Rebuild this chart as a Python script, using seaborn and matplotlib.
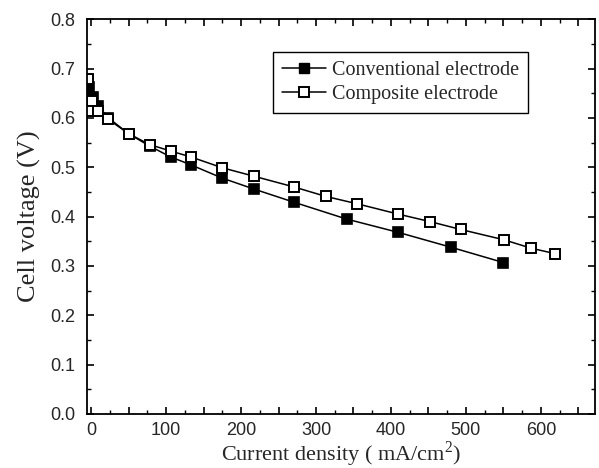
import pandas as pd
import matplotlib
matplotlib.use("Agg")
import matplotlib.pyplot as plt
import seaborn as sns

# conventional electrode (filled squares)
conv_current = [-3, 2, 9, 23, 50, 78, 106, 133, 175, 217, 271, 341, 410, 480, 550]
conv_voltage = [0.662, 0.643, 0.625, 0.600, 0.568, 0.543, 0.521, 0.505, 0.478, 0.456, 0.429, 0.395, 0.368, 0.338, 0.307]

# composite electrode (open squares)
comp_current = [-4, 1, 0, 9, 23, 50, 78, 106, 133, 175, 217, 271, 313, 355, 410, 452, 493, 551, 587, 619]
comp_voltage = [0.678, 0.634, 0.614, 0.614, 0.597, 0.568, 0.546, 0.533, 0.521, 0.499, 0.482, 0.460,
                0.441, 0.426, 0.405, 0.390, 0.374, 0.353, 0.336, 0.325]

x_ticks = [0, 100, 200, 300, 400, 500, 600]
y_ticks = [0.0, 0.1, 0.2, 0.3, 0.4, 0.5, 0.6, 0.7, 0.8]

conv = pd.DataFrame({"current": conv_current, "voltage": conv_voltage})
comp = pd.DataFrame({"current": comp_current, "voltage": comp_voltage})

sns.set_style("ticks")
plt.rcParams["font.family"] = ["Liberation Sans", "DejaVu Sans"]
plt.rcParams["mathtext.fontset"] = "custom"
plt.rcParams["mathtext.rm"] = "Liberation Serif"
plt.rcParams["axes.edgecolor"] = "black"
plt.rcParams["axes.linewidth"] = 1.3

fig = plt.figure(figsize=(5.99, 4.68), dpi=100)
ax = fig.add_axes([0.146, 0.1154, 0.847, 0.8434])

sns.lineplot(data=conv, x="current", y="voltage", ax=ax, sort=False, estimator=None,
             color="black", linewidth=1.1, marker="s", markersize=7,
             markerfacecolor="black", markeredgecolor="black", markeredgewidth=1.2)
sns.lineplot(data=comp, x="current", y="voltage", ax=ax, sort=False, estimator=None,
             color="black", linewidth=1.1, marker="s", markersize=7,
             markerfacecolor="white", markeredgecolor="black", markeredgewidth=1.4)

ax.set_xlim(-5, 672)
ax.set_ylim(0, 0.8)
ax.set_xticks([v for v in range(0, 672, 50)])
ax.set_xticklabels([str(v) if v in x_ticks else "" for v in range(0, 672, 50)])
ax.set_xticks(list(range(25, 672, 50)), minor=True)
ax.set_yticks(y_ticks)
ax.set_yticklabels([f"{v:.1f}" for v in y_ticks])
ax.set_yticks([v / 100 for v in range(5, 80, 10)], minor=True)
ax.tick_params(which="both", direction="in", top=True, right=True, labelsize=13, color="black")
ax.tick_params(which="major", length=5, width=1.2)
ax.tick_params(axis="y", which="major", pad=9)
ax.tick_params(axis="x", which="major", pad=6)
ax.tick_params(which="minor", length=3, width=1.0)

ax.set_xlabel("Current density ( mA/cm$^{2}$)", family="Liberation Serif", fontsize=16, labelpad=0)
ax.set_ylabel("Cell voltage (V)", family="Liberation Serif", fontsize=19, labelpad=6)

h1, = ax.plot([], [], color="black", linewidth=1.1, marker="s", markersize=7,
              markerfacecolor="black", markeredgecolor="black")
h2, = ax.plot([], [], color="black", linewidth=1.1, marker="s", markersize=7,
              markerfacecolor="white", markeredgecolor="black", markeredgewidth=1.4)
leg = ax.legend([h1, h2], ["Conventional electrode", "Composite electrode"],
                loc="upper left", bbox_to_anchor=(0.3655, 0.917), borderaxespad=0,
                fancybox=False, framealpha=1, edgecolor="black", handlelength=2.2,
                handletextpad=0.3, borderpad=0.45, labelspacing=0.25,
                prop={"family": "Liberation Serif", "size": 14.5})
leg.get_frame().set_linewidth(1.0)

plt.savefig("out.png", dpi=100)
